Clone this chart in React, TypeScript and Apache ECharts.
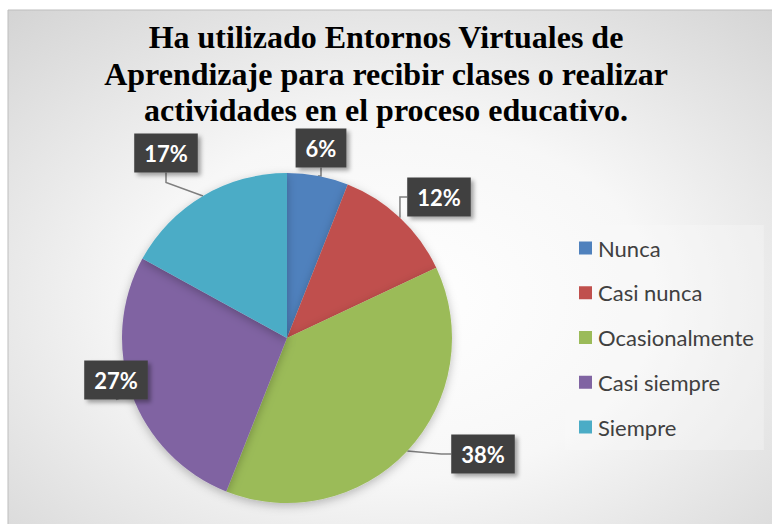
import React, { useEffect, useRef } from "react";
import * as echarts from "echarts";

const titleText =
  "Ha utilizado Entornos Virtuales de\nAprendizaje para recibir clases o realizar\nactividades en el proceso educativo.";
const categories = ["Nunca", "Casi nunca", "Ocasionalmente", "Casi siempre", "Siempre"];
const percentages = [6, 12, 38, 27, 17];
const colors = ["#4F81BD", "#C0504D", "#9BBB59", "#8064A2", "#4BACC6"];
// label box centres (layout only)
const labelCenters = [
  [321, 148],
  [439, 197],
  [483, 454],
  [116, 380],
  [166, 153],
];

export default function App() {
  const ref = useRef<HTMLDivElement>(null);
  useEffect(() => {
    const chart = echarts.init(ref.current!, null, { renderer: "svg" });
    chart.setOption({
      animation: false,
      graphic: [
        {
          type: "rect",
          z: -10,
          shape: { x: 8, y: 10, width: 780, height: 530 },
          style: {
            fill: {
              type: "radial",
              x: 0.5,
              y: 0.55,
              r: 0.95,
              colorStops: [
                { offset: 0, color: "#ffffff" },
                { offset: 0.35, color: "#f7f7f7" },
                { offset: 1, color: "#c2c2c2" },
              ],
            },
            stroke: "#bdbdbd",
            lineWidth: 1,
          },
        },
        {
          type: "text",
          x: 386,
          y: 19,
          style: {
            text: titleText,
            font: "bold 32px 'Liberation Serif', 'Times New Roman', serif",
            fill: "#000000",
            align: "center",
            verticalAlign: "top",
            lineHeight: 36.5,
          },
        },
      ],
      legend: {
        orient: "vertical",
        left: 565,
        top: 225,
        padding: [12, 10, 12, 14],
        backgroundColor: "rgba(250,250,250,0.35)",
        itemWidth: 13,
        itemHeight: 13,
        itemGap: 22.75,
        icon: "rect",
        data: categories,
        textStyle: {
          fontFamily: "Lato, 'Open Sans', sans-serif",
          fontSize: 22,
          color: "#404040",
          lineHeight: 22,
          padding: [0, 0, 0, 1],
        },
      },
      series: [
        {
          type: "pie",
          center: [287, 338],
          radius: 165,
          startAngle: 90,
          clockwise: true,
          data: categories.map((name, i) => ({
            name,
            value: percentages[i],
            itemStyle: { color: colors[i] },
          })),
          itemStyle: {
            shadowBlur: 10,
            shadowColor: "rgba(0,0,0,0.25)",
            shadowOffsetY: 3,
          },
          label: {
            show: true,
            position: "outside",
            formatter: (p: any) => p.value + "%",
            fontFamily: "Lato, 'Open Sans', sans-serif",
            fontWeight: "bold",
            fontSize: 22,
            color: "#ffffff",
            backgroundColor: "#404040",
            padding: [9, 10, 8, 10],
            shadowColor: "rgba(0,0,0,0.35)",
            shadowBlur: 4,
            shadowOffsetX: 3,
            shadowOffsetY: 3,
          },
          labelLine: {
            show: true,
            length: 15,
            length2: 10,
            lineStyle: { color: "#7f7f7f", width: 1.5 },
          },
          labelLayout: (params: any) => {
            const c = labelCenters[params.dataIndex];
            return { x: c[0], y: c[1], align: "center", verticalAlign: "middle" };
          },
        },
      ],
    });
    return () => chart.dispose();
  }, []);
  return (
    <div
      ref={ref}
      style={{ position: "absolute", left: 0, top: 0, width: 772, height: 524 }}
    />
  );
}
